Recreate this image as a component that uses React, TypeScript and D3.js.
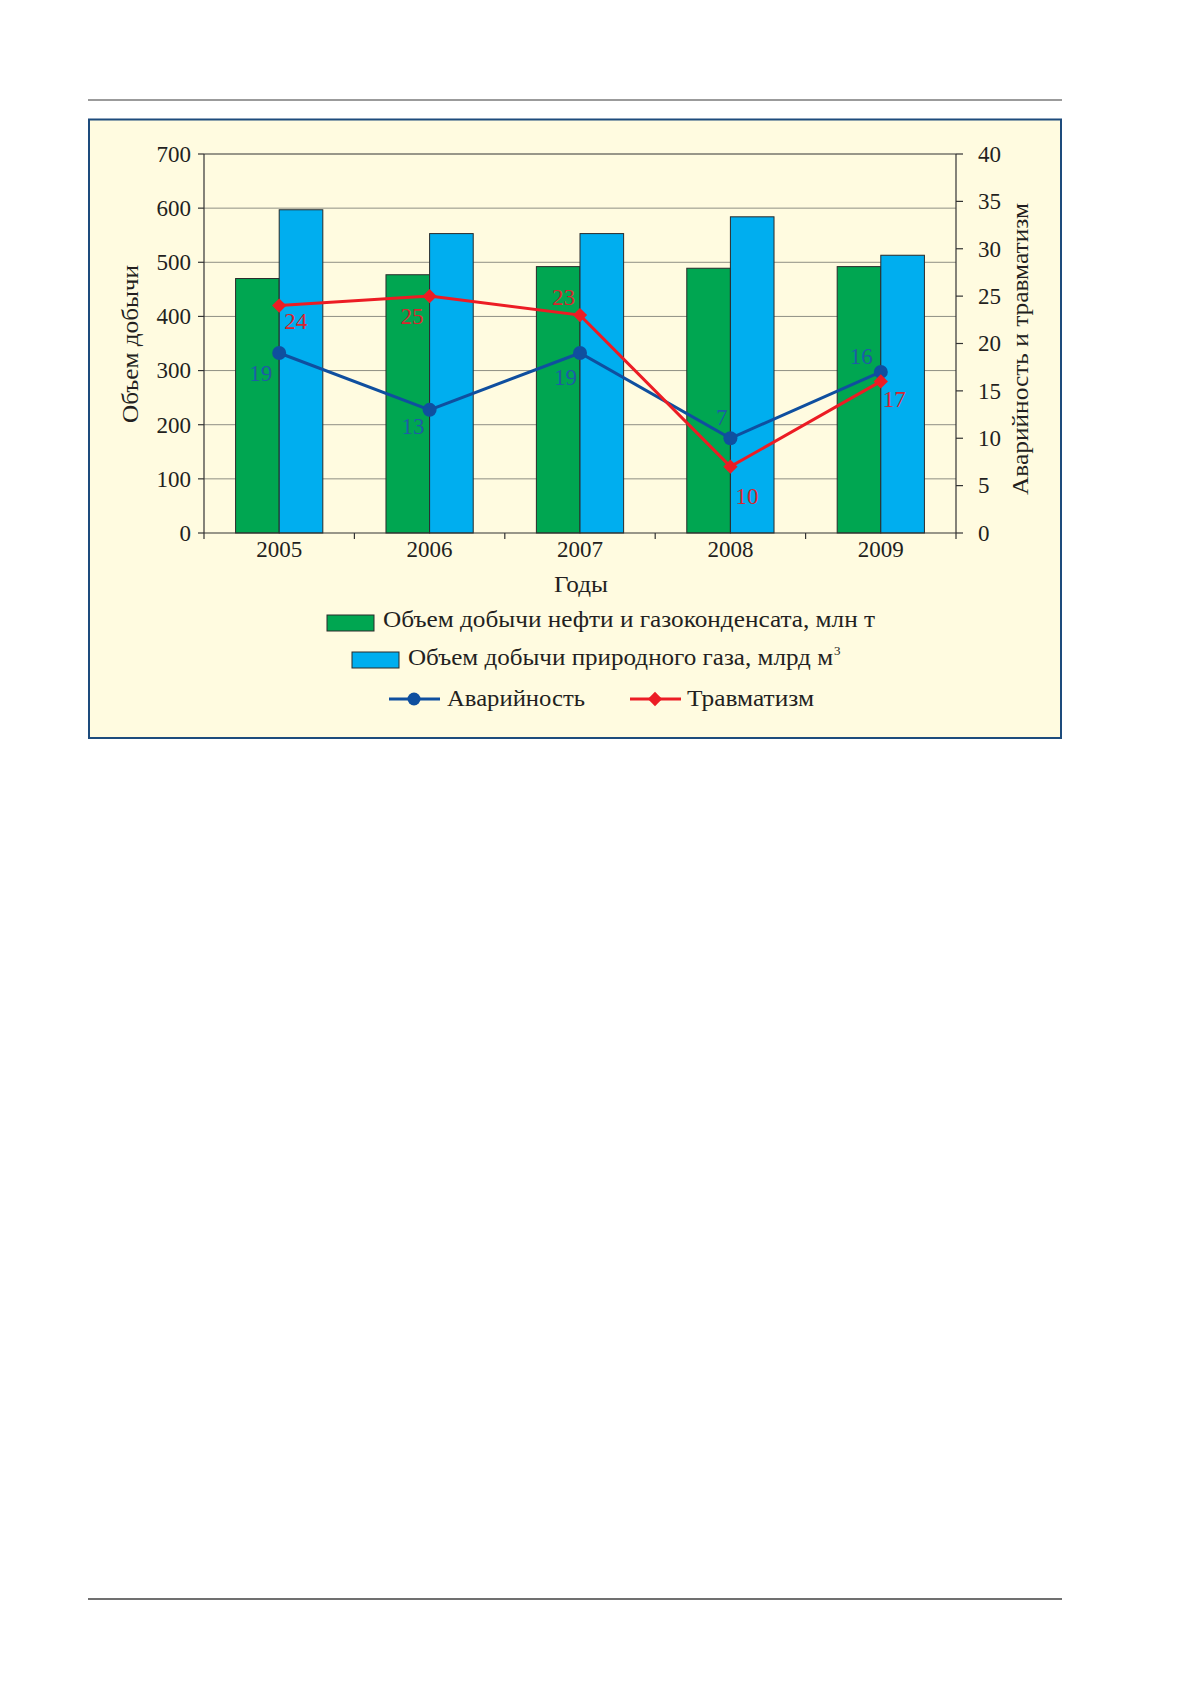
import React, { useEffect, useRef } from 'react';
import * as d3 from 'd3';

// Years on the x axis
const YEARS = ['2005', '2006', '2007', '2008', '2009'];
// Left axis: production volumes
const OIL = [470, 477, 492, 489, 492];   // нефть и газоконденсат, млн т
const GAS = [597, 553, 553, 584, 513];   // природный газ, млрд м3
// Right axis: accidents / injuries (marker positions as drawn in the source)
const ACCIDENTS = [19, 13, 19, 10, 17];
const INJURIES = [24, 25, 23, 7, 16];
// Value labels as printed next to the markers
const ACCIDENT_LABELS = ['19', '13', '19', '7', '16'];
const INJURY_LABELS = ['24', '25', '23', '10', '17'];

const LEFT_TICKS = [0, 100, 200, 300, 400, 500, 600, 700];
const RIGHT_TICKS = [0, 5, 10, 15, 20, 25, 30, 35, 40];

const W = 1179;
const H = 1681;
const FONT = "'Liberation Serif', 'Times New Roman', serif";

const GREEN = '#00a651';
const CYAN = '#00aeef';
const BLUE = '#0f4f9f';
const RED = '#ec1c24';
const BLUE_TXT = '#1e5ca6';
const RED_TXT = '#d7262e';
const INK = '#231f20';

// label placement relative to marker: [dx, dy, anchor]
const ACC_POS: [number, number, string][] = [
  [-7, 28, 'end'], [-5, 24, 'end'], [-3, 32, 'end'], [-3, -13, 'end'], [-8, -8, 'end'],
];
const INJ_POS: [number, number, string][] = [
  [5, 23, 'start'], [-6, 28, 'end'], [-5, -10, 'end'], [5, 37, 'start'], [2, 26, 'start'],
];

export default function App() {
  const svgRef = useRef<SVGSVGElement>(null);

  useEffect(() => {
    const svg = d3.select(svgRef.current);
    svg.selectAll('*').remove();

    const m = { left: 204, right: 956, top: 154, bottom: 533 };

    const x = d3.scaleBand().domain(YEARS).range([m.left, m.right]).paddingInner(0.42).paddingOuter(0.21);
    const xs = d3.scaleBand().domain(['oil', 'gas']).range([0, x.bandwidth()]);
    const yL = d3.scaleLinear().domain([0, 700]).range([m.bottom, m.top]);
    const yR = d3.scaleLinear().domain([0, 40]).range([m.bottom, m.top]);
    const cx = (d: string) => (x(d) ?? 0) + x.bandwidth() / 2;
    const step = (m.right - m.left) / YEARS.length;

    // page rules
    svg.append('line').attr('x1', 88).attr('x2', 1062).attr('y1', 100).attr('y2', 100)
      .attr('stroke', '#7a7a7a').attr('stroke-width', 1.5);
    svg.append('line').attr('x1', 88).attr('x2', 1062).attr('y1', 1599).attr('y2', 1599)
      .attr('stroke', '#707070').attr('stroke-width', 2.2);

    // frame
    svg.append('rect').attr('x', 89).attr('y', 119.5).attr('width', 972).attr('height', 618.5)
      .attr('fill', '#fffbe0').attr('stroke', '#1d4b7c').attr('stroke-width', 2);

    // gridlines
    svg.append('g').selectAll('line').data(LEFT_TICKS.slice(1, -1)).join('line')
      .attr('x1', m.left).attr('x2', m.right)
      .attr('y1', d => yL(d)).attr('y2', d => yL(d))
      .attr('stroke', '#8f8f84').attr('stroke-width', 1);

    // bars
    const g = svg.append('g');
    YEARS.forEach((yr, i) => {
      const x0 = x(yr) ?? 0;
      g.append('rect').attr('x', x0 + (xs('oil') ?? 0)).attr('y', yL(OIL[i]))
        .attr('width', xs.bandwidth()).attr('height', yL(0) - yL(OIL[i]))
        .attr('fill', GREEN).attr('stroke', '#2a2a2a').attr('stroke-width', 1);
      g.append('rect').attr('x', x0 + (xs('gas') ?? 0)).attr('y', yL(GAS[i]))
        .attr('width', xs.bandwidth()).attr('height', yL(0) - yL(GAS[i]))
        .attr('fill', CYAN).attr('stroke', '#2a2a2a').attr('stroke-width', 1);
    });

    // plot border: top, left, right, bottom
    const axisColor = '#333';
    const border = [
      [m.left, m.top, m.right, m.top],
      [m.left, m.top, m.left, m.bottom],
      [m.right, m.top, m.right, m.bottom],
      [m.left, m.bottom, m.right, m.bottom],
    ];
    svg.append('g').selectAll('line').data(border).join('line')
      .attr('x1', d => d[0]).attr('y1', d => d[1]).attr('x2', d => d[2]).attr('y2', d => d[3])
      .attr('stroke', axisColor).attr('stroke-width', 1.2);

    // left ticks + labels
    const lt = svg.append('g');
    LEFT_TICKS.forEach(v => {
      lt.append('line').attr('x1', m.left - 6).attr('x2', m.left).attr('y1', yL(v)).attr('y2', yL(v))
        .attr('stroke', axisColor).attr('stroke-width', 1.2);
      lt.append('text').attr('x', m.left - 13).attr('y', yL(v)).attr('dy', '0.34em')
        .attr('text-anchor', 'end').attr('font-size', 23).attr('font-family', FONT).attr('fill', INK)
        .text(v);
    });

    // right ticks + labels
    const rt = svg.append('g');
    RIGHT_TICKS.forEach(v => {
      rt.append('line').attr('x1', m.right).attr('x2', m.right + 7).attr('y1', yR(v)).attr('y2', yR(v))
        .attr('stroke', axisColor).attr('stroke-width', 1.2);
      rt.append('text').attr('x', m.right + 22).attr('y', yR(v)).attr('dy', '0.34em')
        .attr('text-anchor', 'start').attr('font-size', 23).attr('font-family', FONT).attr('fill', INK)
        .text(v);
    });

    // x ticks at category boundaries
    d3.range(YEARS.length + 1).forEach(i => {
      const xx = m.left + i * step;
      svg.append('line').attr('x1', xx).attr('x2', xx).attr('y1', m.bottom).attr('y2', m.bottom + 6)
        .attr('stroke', axisColor).attr('stroke-width', 1.2);
    });
    svg.append('g').selectAll('text').data(YEARS).join('text')
      .attr('x', d => cx(d)).attr('y', 557).attr('text-anchor', 'middle')
      .attr('font-size', 23).attr('font-family', FONT).attr('fill', INK)
      .text(d => d);

    // Cyrillic text in the source font runs wider than Liberation Serif: fit to measured widths
    const label = (sel: d3.Selection<SVGTextElement, unknown, null, undefined>, len: number) =>
      sel.attr('font-size', 24).attr('font-family', FONT).attr('fill', INK)
        .attr('textLength', len).attr('lengthAdjust', 'spacingAndGlyphs');

    // axis titles
    label(svg.append('text').attr('transform', 'translate(138, 344) rotate(-90)')
      .attr('text-anchor', 'middle').text('Объем добычи'), 158);
    label(svg.append('text').attr('transform', 'translate(1028, 349) rotate(-90)')
      .attr('text-anchor', 'middle').text('Аварийность и травматизм'), 292);
    label(svg.append('text').attr('x', 581).attr('y', 592).attr('text-anchor', 'middle')
      .text('Годы'), 54);

    // lines
    const line = (scale: d3.ScaleLinear<number, number>) => d3.line<number>()
      .x((_, i) => cx(YEARS[i]))
      .y(d => scale(d));
    svg.append('path').datum(ACCIDENTS).attr('d', line(yR)).attr('fill', 'none')
      .attr('stroke', BLUE).attr('stroke-width', 3);
    svg.append('path').datum(INJURIES).attr('d', line(yR)).attr('fill', 'none')
      .attr('stroke', RED).attr('stroke-width', 3);

    const diamond = d3.symbol().type(d3.symbolDiamond2).size(130);
    svg.append('g').selectAll('circle').data(ACCIDENTS).join('circle')
      .attr('cx', (_, i) => cx(YEARS[i])).attr('cy', d => yR(d)).attr('r', 7)
      .attr('fill', BLUE);
    svg.append('g').selectAll('path').data(INJURIES).join('path')
      .attr('d', diamond())
      .attr('transform', (d, i) => `translate(${cx(YEARS[i])}, ${yR(d)})`)
      .attr('fill', RED);

    // value labels
    ACCIDENT_LABELS.forEach((lab, i) => {
      const [dx, dy, anchor] = ACC_POS[i];
      svg.append('text').attr('x', cx(YEARS[i]) + dx).attr('y', yR(ACCIDENTS[i]) + dy)
        .attr('text-anchor', anchor).attr('font-size', 23).attr('font-family', FONT)
        .attr('fill', BLUE_TXT).text(lab);
    });
    INJURY_LABELS.forEach((lab, i) => {
      const [dx, dy, anchor] = INJ_POS[i];
      svg.append('text').attr('x', cx(YEARS[i]) + dx).attr('y', yR(INJURIES[i]) + dy)
        .attr('text-anchor', anchor).attr('font-size', 23).attr('font-family', FONT)
        .attr('fill', RED_TXT).text(lab);
    });

    // legend
    const lg = svg.append('g');
    lg.append('rect').attr('x', 327).attr('y', 615).attr('width', 47).attr('height', 16)
      .attr('fill', GREEN).attr('stroke', '#2a2a2a').attr('stroke-width', 1);
    label(lg.append('text').attr('x', 383).attr('y', 627)
      .text('Объем добычи нефти и газоконденсата, млн т'), 492);

    lg.append('rect').attr('x', 352).attr('y', 652).attr('width', 47).attr('height', 16)
      .attr('fill', CYAN).attr('stroke', '#2a2a2a').attr('stroke-width', 1);
    label(lg.append('text').attr('x', 408).attr('y', 665)
      .text('Объем добычи природного газа, млрд м'), 425);
    lg.append('text').attr('x', 834).attr('y', 655).attr('font-size', 13)
      .attr('font-family', FONT).attr('fill', INK).text('3');

    lg.append('line').attr('x1', 389).attr('x2', 440).attr('y1', 699).attr('y2', 699)
      .attr('stroke', BLUE).attr('stroke-width', 3);
    lg.append('circle').attr('cx', 414).attr('cy', 699).attr('r', 6.5).attr('fill', BLUE);
    label(lg.append('text').attr('x', 447).attr('y', 706).text('Аварийность'), 138);

    lg.append('line').attr('x1', 630).attr('x2', 681).attr('y1', 699).attr('y2', 699)
      .attr('stroke', RED).attr('stroke-width', 3);
    lg.append('path').attr('d', diamond()).attr('transform', 'translate(655, 699)').attr('fill', RED);
    label(lg.append('text').attr('x', 687).attr('y', 706).text('Травматизм'), 127);
  }, []);

  return (
    <svg
      ref={svgRef}
      width={W}
      height={H}
      viewBox={`0 0 ${W} ${H}`}
      style={{ position: 'absolute', left: 0, top: 0, display: 'block', background: '#ffffff' }}
    />
  );
}
